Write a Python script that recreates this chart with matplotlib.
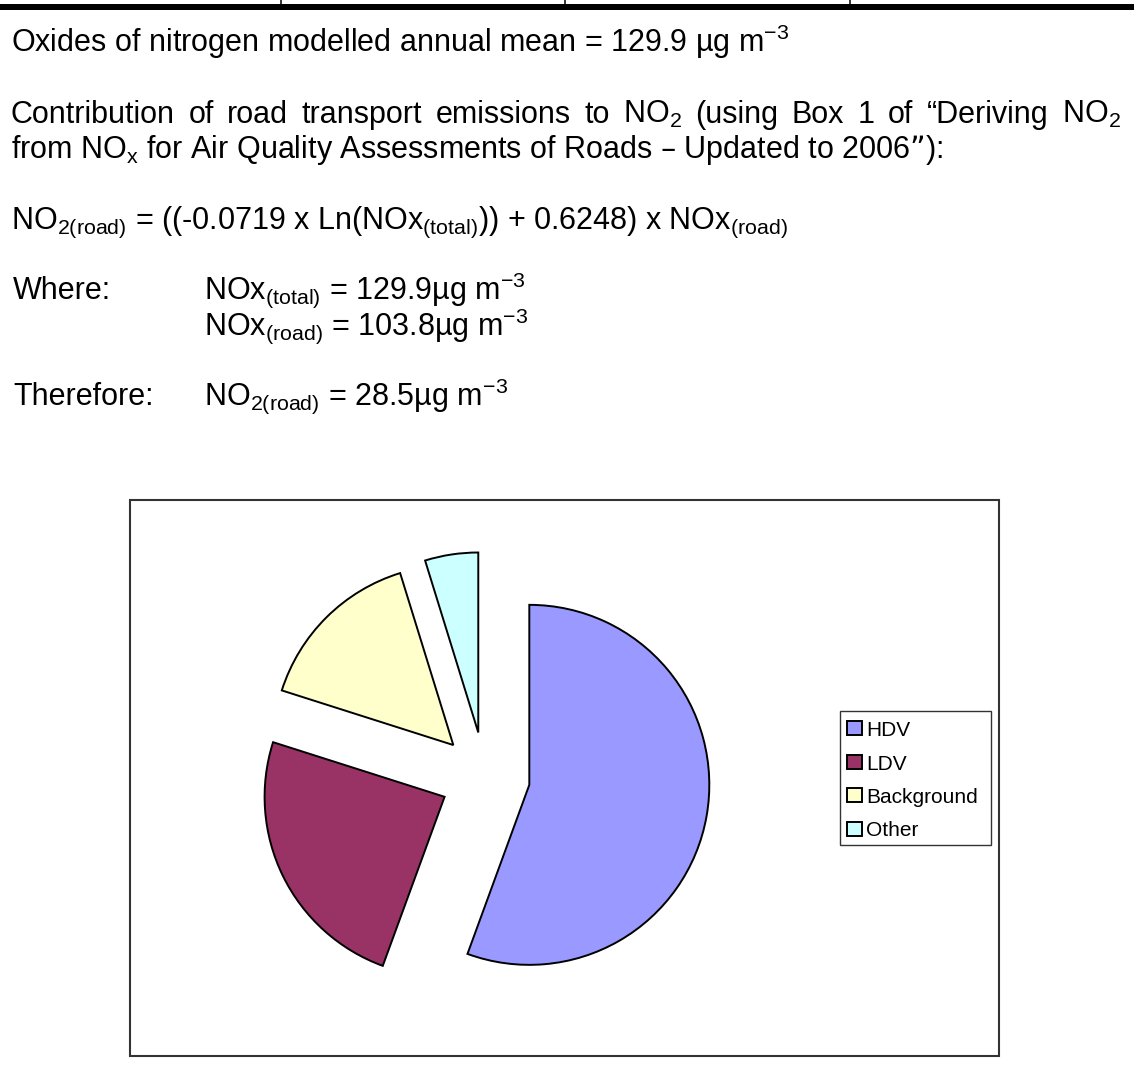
import matplotlib.pyplot as plt
from matplotlib.patches import Rectangle

plt.rcParams['font.family'] = ['Liberation Sans', 'DejaVu Sans']
plt.rcParams['mathtext.default'] = 'regular'

# NOx source apportionment (ug m-3), total = 129.9
sources = ['HDV', 'LDV', 'Background', 'Other']
nox_values = [72.2, 31.6, 19.9, 6.2]
colours = ['#9999FF', '#993366', '#FFFFCC', '#CCFFFF']

# text block above the chart: (x, line number, string, justified)
text_lines = [
    (11, 0, 'Oxides of nitrogen modelled annual mean = 129.9 µg m$^{-3}$', False),
    (11, 2, 'Contribution of road transport emissions to NO$_{2}$ (using Box 1 of “Deriving NO$_{2}$', True),
    (11, 3, 'from NO$_{x}$ for Air Quality Assessments of Roads – Updated to 2006”):', False),
    (11, 5, 'NO$_{2(road)}$ = ((-0.0719 x Ln(NOx$_{(total)}$)) + 0.6248) x NOx$_{(road)}$', False),
    (13, 7, 'Where:', False),
    (204, 7, 'NOx$_{(total)}$ = 129.9µg m$^{-3}$', False),
    (204, 8, 'NOx$_{(road)}$ = 103.8µg m$^{-3}$', False),
    (13, 10, 'Therefore:', False),
    (204, 10, 'NO$_{2(road)}$ = 28.5µg m$^{-3}$', False),
]

W, H = 1134, 1090
fig = plt.figure(figsize=(W / 100, H / 100), dpi=100)
renderer = fig.canvas.get_renderer()

# page layer in pixel coordinates, y pointing down
page = fig.add_axes([0, 0, 1, 1])
page.set_xlim(0, W)
page.set_ylim(H, 0)
page.axis('off')

# bottom edge of the table above
page.add_patch(Rectangle((0, 4), W, 6, facecolor='black', edgecolor='none'))
for x in [281, 565, 850]:
    page.plot([x, x], [0, 5], color='black', lw=1.1)


def justified(x0, x1, y, s, **kw):
    # spread the words so the line runs from x0 to x1
    words = s.split(' ')
    texts = [page.text(0, y, w, **kw) for w in words]
    widths = [t.get_window_extent(renderer).width for t in texts]
    gap = (x1 - x0 - sum(widths)) / (len(words) - 1)
    x = x0
    for t, w in zip(texts, widths):
        t.set_x(x)
        x += w + gap


line_top = 52
line_step = 35.3
right_margin = 1121
for x, n, s, just in text_lines:
    y = line_top + n * line_step
    if just:
        justified(x, right_margin, y, s, fontsize=22, va='baseline', ha='left')
    else:
        page.text(x, y, s, fontsize=22, va='baseline', ha='left')

# chart area frame
page.add_patch(Rectangle((130, 500), 869, 556, fill=False, edgecolor='#333333', lw=1.5))

# pie chart, all slices pulled out
cx, cy, r, half = 485, 777, 180, 260
ax = fig.add_axes([(cx - half) / W, (H - cy - half) / H, 2 * half / W, 2 * half / H])
ax.pie(nox_values, colors=colours, startangle=90, counterclock=False,
       explode=[0.25] * len(nox_values), radius=1,
       wedgeprops=dict(edgecolor='black', linewidth=1.4))
ax.set_xlim(-half / r, half / r)
ax.set_ylim(-half / r, half / r)
ax.set_aspect('equal')
ax.axis('off')

# legend
page.add_patch(Rectangle((840, 711), 151, 134, fill=False, edgecolor='#333333', lw=1))
for i, (name, col) in enumerate(zip(sources, colours)):
    base = 736 + i * 33.5
    page.add_patch(Rectangle((847, base - 15), 15, 14, facecolor=col, edgecolor='black', lw=1.4))
    page.text(866, base, name, fontsize=15, va='baseline', ha='left')

fig.savefig('out.png', dpi=100)
